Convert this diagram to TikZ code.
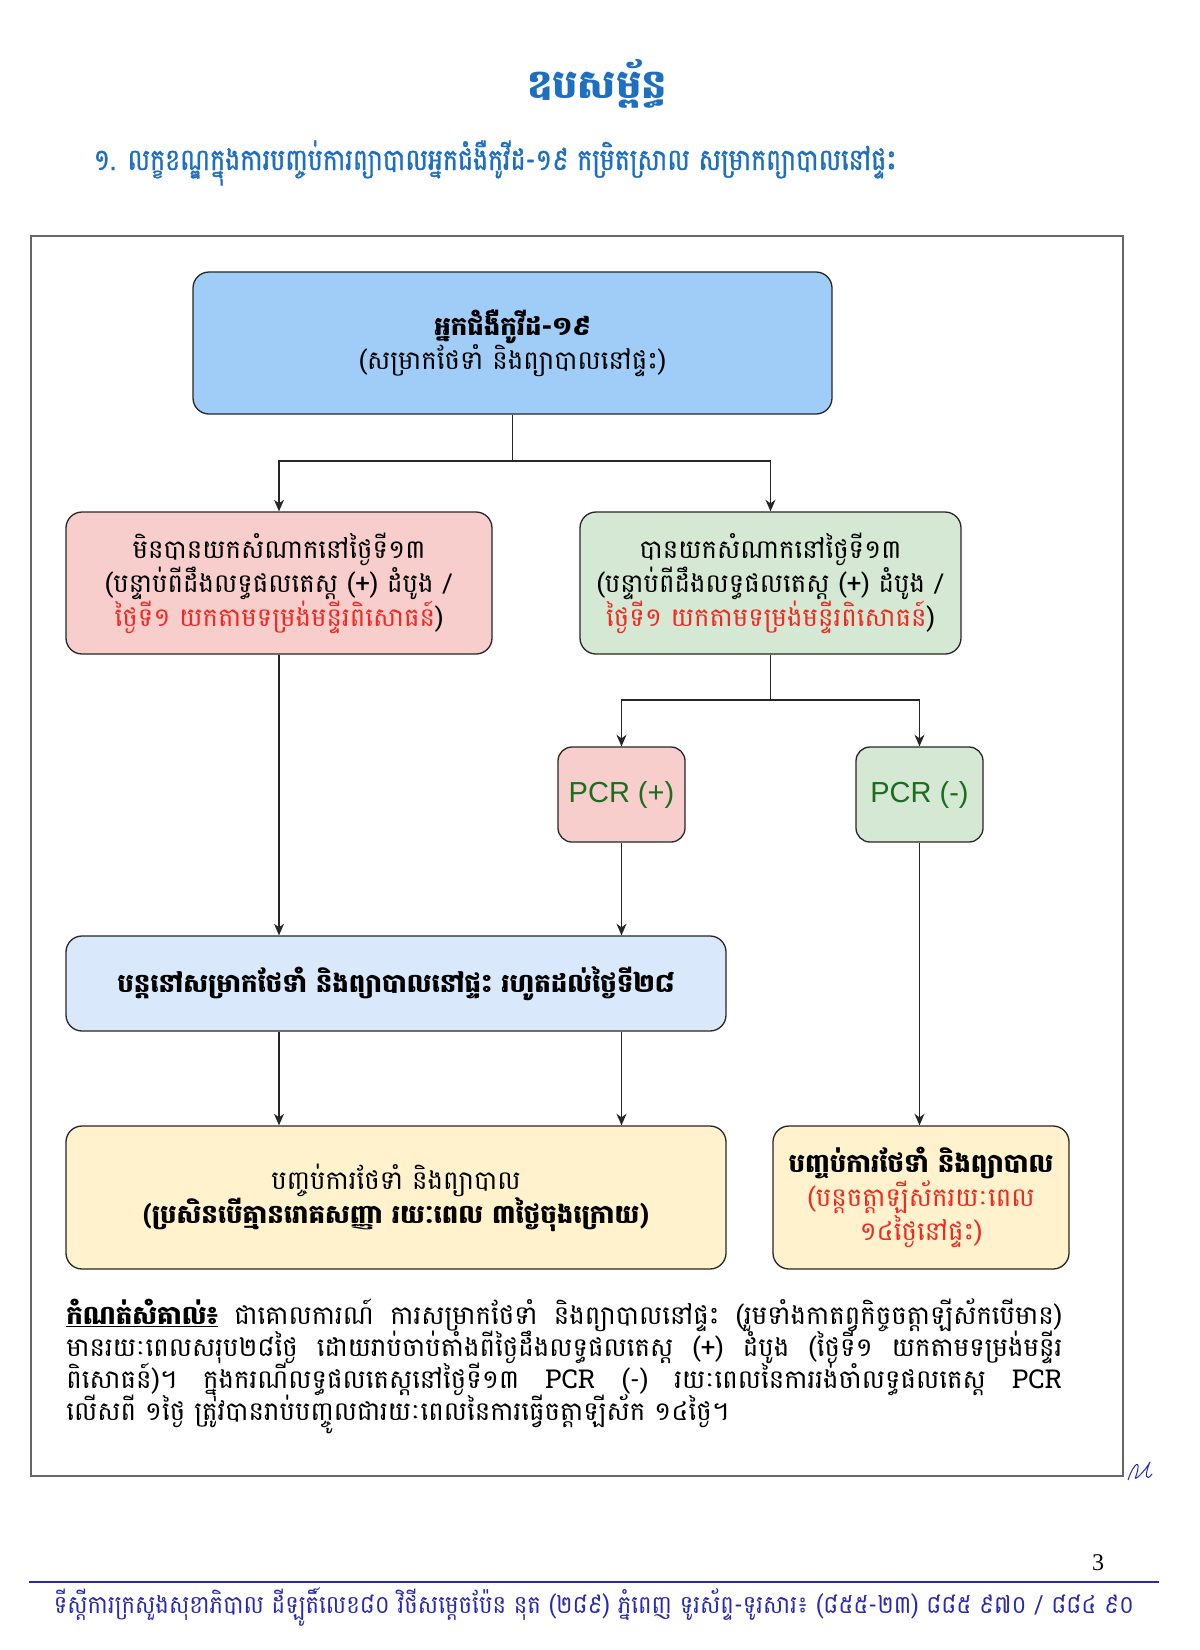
\documentclass[tikz,border=0pt]{standalone}
\usepackage{fontspec}
\setmainfont{Liberation Sans}
\newfontfamily\khmer[Script=Khmer]{Battambang}
\newfontfamily\khmerhead[Script=Khmer,FakeStretch=0.84,FakeBold=1.2]{Battambang}
\newfontfamily\khmerfoot[Script=Khmer,FakeStretch=0.91]{Battambang}
\newfontfamily\pagefont{Liberation Serif}
\usetikzlibrary{arrows.meta}

\definecolor{topblue}{HTML}{9FCDF8}
\definecolor{lightred}{HTML}{F8CECC}
\definecolor{lightgreen}{HTML}{D5E8D4}
\definecolor{paleblue}{HTML}{DAE8FC}
\definecolor{paleyellow}{HTML}{FFF2CC}
\definecolor{txtred}{HTML}{EE2A22}
\definecolor{pcrgreen}{HTML}{1B6E1B}
\definecolor{headblue}{HTML}{1E6FC0}
\definecolor{footblue}{HTML}{2828B0}

\tikzset{
  stepbox/.style={draw=black!85, line width=0.65pt, rounded corners=8pt, align=center, inner sep=0pt,
    font=\khmer\fontsize{13}{17}\selectfont},
  pcrbox/.style={draw=black!85, line width=0.65pt, rounded corners=7pt, inner sep=0pt,
    minimum width=63.5pt, minimum height=47.5pt, text=pcrgreen, font=\fontsize{14.5}{17}\selectfont},
  link/.style={-{Stealth[length=5.8pt,width=5pt,inset=1.8pt]}, line width=0.6pt, draw=black!85},
  noteline/.style={anchor=base west, inner sep=0pt, font=\khmer\fontsize{13}{17}\selectfont},
}

\begin{document}
\begin{tikzpicture}[x=0.5pt,y=-0.5pt]
\useasboundingbox (0,0) rectangle (1200,1650);

% headings
\node[text=headblue, font=\khmer\bfseries\fontsize{20}{24}\selectfont] (title) at (597,84) {ឧបសម្ព័ន្ធ};
\node[anchor=west, inner sep=0pt, text=headblue, font=\khmerhead\fontsize{15}{18}\selectfont] (subtitle) at (93,163)
  {១. លក្ខខណ្ឌក្នុងការបញ្ចប់ការព្យាបាលអ្នកជំងឺកូវីដ-១៩ កម្រិតស្រាល សម្រាកព្យាបាលនៅផ្ទះ};

% outer frame
\draw[black!60, line width=1pt] (31,236) rectangle (1123,1476);

% boxes
\node[stepbox, fill=topblue, minimum width=319.5pt, minimum height=71pt] (patient) at (512.5,343)
  {{\bfseries អ្នកជំងឺកូវីដ-១៩}\\(សម្រាកថែទាំ និងព្យាបាលនៅផ្ទះ)};
\node[stepbox, fill=lightred, minimum width=213pt, minimum height=71pt] (nosample) at (279,583)
  {មិនបានយកសំណាកនៅថ្ងៃទី១៣\\(បន្ទាប់ពីដឹងលទ្ធផលតេស្ត (+) ដំបូង /\\\textcolor{txtred}{ថ្ងៃទី១ យកតាមទម្រង់មន្ទីរពិសោធន៍})};
\node[stepbox, fill=lightgreen, minimum width=190.5pt, minimum height=71pt] (sample) at (770.5,583)
  {បានយកសំណាកនៅថ្ងៃទី១៣\\(បន្ទាប់ពីដឹងលទ្ធផលតេស្ត (+) ដំបូង /\\\textcolor{txtred}{ថ្ងៃទី១ យកតាមទម្រង់មន្ទីរពិសោធន៍})};
\node[pcrbox, fill=lightred] (pcrpos) at (621.5,794.5) {PCR (+)};
\node[pcrbox, fill=lightgreen] (pcrneg) at (919.5,794.5) {PCR (-)};
\node[stepbox, fill=paleblue, minimum width=330pt, minimum height=47.5pt] (stayhome) at (396,983.5)
  {\bfseries បន្តនៅសម្រាកថែទាំ និងព្យាបាលនៅផ្ទះ រហូតដល់ថ្ងៃទី២៨};
\node[stepbox, fill=paleyellow, minimum width=330pt, minimum height=71.5pt] (endcare) at (396,1197.5)
  {បញ្ចប់ការថែទាំ និងព្យាបាល\\{\bfseries (ប្រសិនបើគ្មានរោគសញ្ញា រយៈពេល ៣ថ្ងៃចុងក្រោយ)}};
\node[stepbox, fill=paleyellow, minimum width=148pt, minimum height=71.5pt] (endquar) at (921,1197.5)
  {{\bfseries បញ្ចប់ការថែទាំ និងព្យាបាល}\\\textcolor{txtred}{(បន្តចត្តាឡីស័ករយៈពេល}\\\textcolor{txtred}{១៤ថ្ងៃនៅផ្ទះ)}};

% connectors
\coordinate (split1) at (512.5,461);
\coordinate (split2) at (770.5,700);
\draw[line width=0.6pt, black!85] (patient.south) -- (split1);
\draw[link] (split1) -| (nosample.north);
\draw[link] (split1) -| (sample.north);
\draw[line width=0.6pt, black!85] (sample.south) -- (split2);
\draw[link] (split2) -| (pcrpos.north);
\draw[link] (split2) -| (pcrneg.north);
\draw[link] (nosample.south) -- (nosample.south |- stayhome.north);
\draw[link] (pcrpos.south) -- (pcrpos.south |- stayhome.north);
\draw[link] (stayhome.south -| nosample.south) -- (endcare.north -| nosample.south);
\draw[link] (stayhome.south -| pcrpos.south) -- (endcare.north -| pcrpos.south);
\draw[link] (pcrneg.south) -- (pcrneg.south |- endquar.north);

% note
\node[noteline] (note1) at (66,1324) {\makebox[498pt][s]{\underline{\bfseries កំណត់សំគាល់៖} ជាគោលការណ៍ ការសម្រាកថែទាំ និងព្យាបាលនៅផ្ទះ (រួមទាំងកាតព្វកិច្ចចត្តាឡីស័កបើមាន)}};
\node[noteline] (note2) at (66,1356) {\makebox[498pt][s]{មានរយៈពេលសរុប២៨ថ្ងៃ ដោយរាប់ចាប់តាំងពីថ្ងៃដឹងលទ្ធផលតេស្ត (+) ដំបូង (ថ្ងៃទី១ យកតាមទម្រង់មន្ទីរ}};
\node[noteline] (note3) at (66,1388) {\makebox[498pt][s]{ពិសោធន៍)។ ក្នុងករណីលទ្ធផលតេស្តនៅថ្ងៃទី១៣ PCR (-) រយៈពេលនៃការរង់ចាំលទ្ធផលតេស្ត PCR}};
\node[noteline] (note4) at (66,1420) {លើសពី ១ថ្ងៃ ត្រូវបានរាប់បញ្ចូលជារយៈពេលនៃការធ្វើចត្តាឡីស័ក ១៤ថ្ងៃ។};

% signature mark
\draw[footblue, line width=0.5pt] (1128,1480) .. controls (1134,1462) and (1142,1458) .. (1136,1476)
  .. controls (1132,1484) and (1146,1470) .. (1150,1462) .. controls (1144,1476) and (1146,1482) .. (1152,1474);

% page number and footer
\node[font=\pagefont\fontsize{12}{14}\selectfont] (pagenum) at (1098,1563) {3};
\draw[footblue, line width=0.8pt] (29,1582) -- (1159,1582);
\node[text=footblue, font=\khmerfoot\fontsize{12.5}{15}\selectfont] (footer) at (594,1607)
  {ទីស្តីការក្រសួងសុខាភិបាល ដីឡូតិ៍លេខ៨០ វិថីសម្តេចប៉ែន នុត (២៨៩) ភ្នំពេញ ទូរស័ព្ទ-ទូរសារ៖ (៨៥៥-២៣) ៨៨៥ ៩៧០ / ៨៨៤ ៩០};
\end{tikzpicture}
\end{document}
